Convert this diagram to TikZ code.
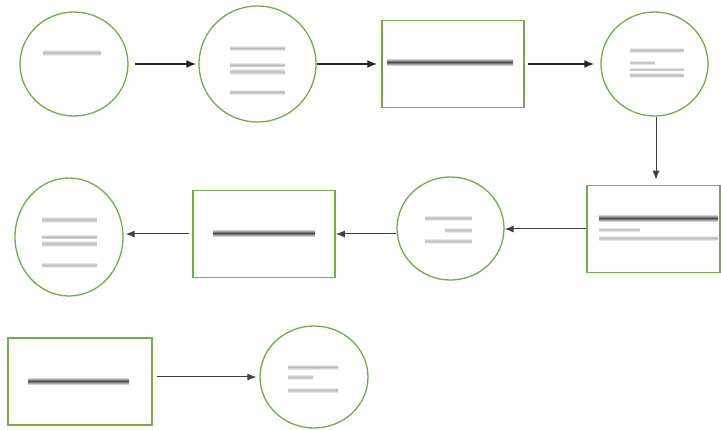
\documentclass[tikz,border=0pt]{standalone}
\usetikzlibrary{shapes.geometric,arrows.meta,calc}
\definecolor{officegreen}{RGB}{112,173,71}
\tikzset{
  bubble/.style={ellipse, draw=officegreen, line width=1.3pt, fill=white, inner sep=0pt},
  panel/.style={rectangle, draw=officegreen, line width=1.5pt, fill=white, inner sep=0pt},
  arr/.style={-{Latex[length=10pt,width=8pt]}, line width=1.7pt, draw=black!85},
  arrthin/.style={-{Latex[length=9pt,width=7pt]}, line width=1.0pt, draw=black!75},
  blurbar/.style={top color=white, bottom color=white, middle color=gray!55, draw=none},
  blurdark/.style={top color=white, bottom color=white, middle color=black!70, draw=none},
}
\begin{document}
\begin{tikzpicture}[x=1pt,y=-1pt]
\useasboundingbox (0,0) rectangle (721,430);
% nodes
\node[bubble, minimum width=108pt, minimum height=104pt] (c1) at (74,64) {};
\node[bubble, minimum width=117pt, minimum height=116pt] (c2) at (257.5,64) {};
\node[panel, minimum width=142pt, minimum height=87pt] (r1) at (453,64) {};
\node[bubble, minimum width=107pt, minimum height=104pt] (c3) at (654.5,64) {};
\node[panel, minimum width=133pt, minimum height=87pt] (r2) at (653.5,229) {};
\node[bubble, minimum width=107pt, minimum height=103pt] (c4) at (450.5,228.5) {};
\node[panel, minimum width=142pt, minimum height=87pt] (r3) at (264,234) {};
\node[bubble, minimum width=108pt, minimum height=118pt] (c5) at (69,237) {};
\node[panel, minimum width=144pt, minimum height=87pt] (r4) at (80,381.5) {};
\node[bubble, minimum width=108pt, minimum height=102pt] (c6) at (314,377) {};
% blurred label bars
\shade[blurbar] (43,49) rectangle (101,56);
\shade[blurbar] (230,45) rectangle (285,51);
\shade[blurbar] (230,62) rectangle (285,68);
\shade[blurbar] (230,68) rectangle (285,75);
\shade[blurbar] (230,89) rectangle (285,95);
\shade[blurdark] (387,58) rectangle (513,66);
\shade[blurbar] (630,47) rectangle (684,53);
\shade[blurbar] (630,60) rectangle (655,65);
\shade[blurbar] (630,67) rectangle (684,72);
\shade[blurbar] (630,72) rectangle (684,78);
\shade[blurdark] (599,214) rectangle (718,222);
\shade[blurbar] (599,227) rectangle (640,232);
\shade[blurbar] (599,235) rectangle (718,241);
\shade[blurbar] (425,215) rectangle (472,221);
\shade[blurbar] (445,227) rectangle (472,233);
\shade[blurbar] (425,238) rectangle (472,244);
\shade[blurdark] (213,229) rectangle (315,237);
\shade[blurbar] (42,216) rectangle (97,223);
\shade[blurbar] (42,234) rectangle (97,240);
\shade[blurbar] (42,240) rectangle (97,247);
\shade[blurbar] (42,262) rectangle (97,268);
\shade[blurdark] (28,377) rectangle (129,385);
\shade[blurbar] (288,364) rectangle (338,370);
\shade[blurbar] (288,374) rectangle (313,380);
\shade[blurbar] (288,387) rectangle (338,393);
% connectors
\draw[arr, shorten <=6pt, shorten >=2pt] (c1.east) -- (c1.east -| c2.west);
\draw[arr, shorten >=4pt] (c2.east) -- (r1.west);
\draw[arr, shorten <=3pt, shorten >=6pt] (r1.east) -- (c3.west);
\draw[arrthin, shorten >=5pt] ([xshift=1.5pt]c3.south) -- ([xshift=1.5pt]c3.south |- r2.north);
\draw[arrthin] (r2.west) -- (r2.west -| c4.east);
\draw[arrthin] (r3.east -| c4.west) -- (r3.east);
\draw[arrthin, shorten <=3pt, shorten >=2pt] (r3.west) -- (r3.west -| c5.east);
\draw[arrthin, shorten <=4pt, shorten >=3pt] (r4.east |- c6.west) -- (c6.west);
\end{tikzpicture}
\end{document}
